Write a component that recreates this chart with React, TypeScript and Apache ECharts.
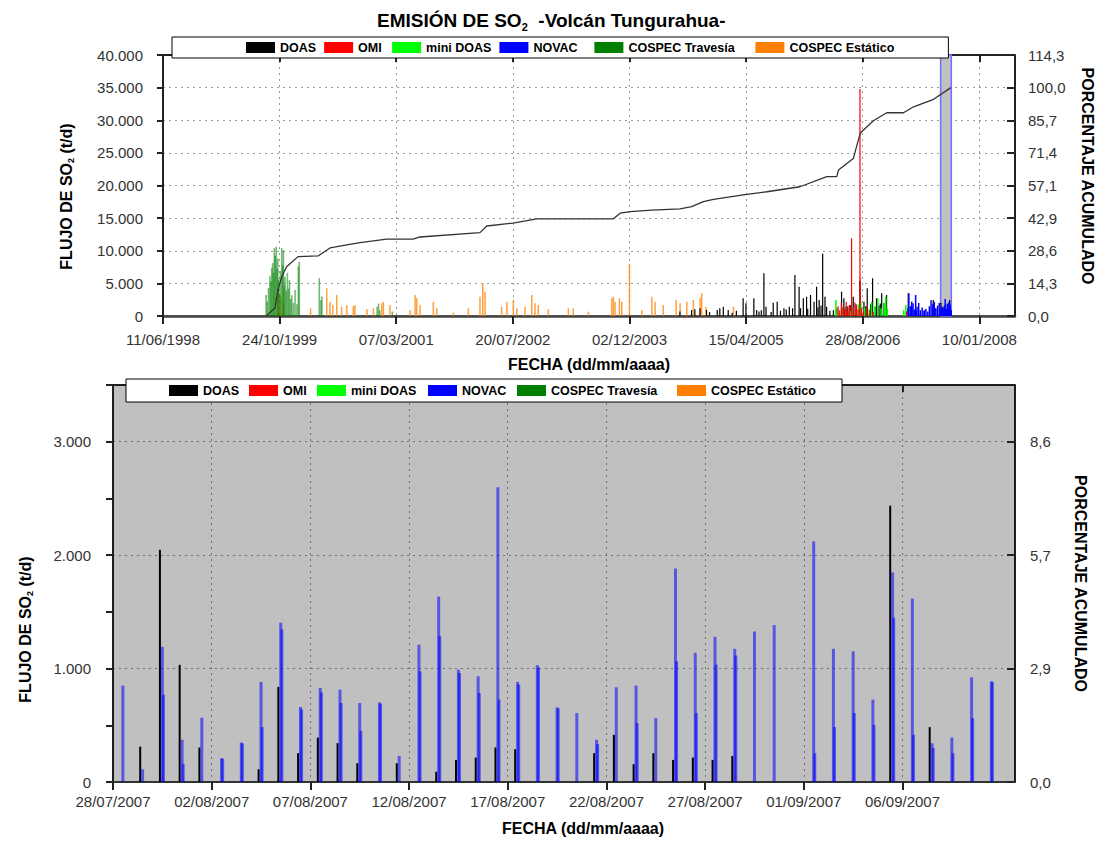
import React, { useEffect, useRef } from 'react';
import * as echarts from 'echarts';

const DAY = 86400000;
const FONT = 'Arial, "Liberation Sans", sans-serif';

// ---------- axis ranges / ticks ----------
const topAxisStart = '1998-06-11';
const topAxisEnd = '2008-06-11';
const topTickDays = 500;
const topFluxMax = 40000;
const topFluxStep = 5000;
const fluxFor100Pct = 35000;
const bottomAxisStart = '2007-07-28';
const bottomAxisSpanDays = 45.7;
const bottomTickDays = [0, 5, 10, 15, 20, 25, 30, 35, 40];
const bottomFluxMax = 3500;
const bandStart = '2007-07-28';
const bandEnd = '2007-09-12';

// ---------- legend ----------
const seriesNames = ['DOAS', 'OMI', 'mini DOAS', 'NOVAC', 'COSPEC Travesía', 'COSPEC Estático'];
const seriesColors = ['#000000', '#ff0000', '#00ff00', '#0000ff', '#008000', '#ff8000'];
const topLegendTextWidths = [36, 26, 65, 53, 119, 114];
const bottomLegendTextWidths = [38, 26, 69, 47, 118, 115];

// ---------- top chart data: [date, t/d] ----------
const cospecTravesia: [string, number][] = [
  ['1999-08-27', 3200], ['1999-09-01', 2200], ['1999-09-06', 4300], ['1999-09-12', 6100],
  ['1999-09-16', 5300], ['1999-09-20', 7400], ['1999-09-24', 8100], ['1999-09-28', 6600],
  ['1999-10-01', 10400], ['1999-10-05', 9200], ['1999-10-09', 10600], ['1999-10-13', 7200],
  ['1999-10-16', 8800], ['1999-10-20', 5600], ['1999-10-23', 3500], ['1999-10-27', 6900],
  ['1999-11-02', 10400], ['1999-11-06', 7800], ['1999-11-09', 10100], ['1999-11-13', 4700],
  ['1999-11-16', 6000], ['1999-11-21', 3900], ['1999-11-26', 6600], ['1999-12-01', 4200],
  ['1999-12-05', 5500], ['1999-12-10', 2600], ['1999-12-15', 3200], ['1999-12-22', 2000],
  ['1999-12-29', 4000], ['2000-01-06', 1800], ['2000-01-12', 7600], ['2000-01-16', 8300],
  ['2000-04-11', 5800], ['2000-04-18', 2400], ['2000-04-22', 3000], ['2000-12-15', 1400],
  ['2000-12-21', 1900], ['2000-12-26', 900], ['2001-02-18', 700],
];

const cospecEstatico: [string, number][] = [
  ['1999-10-18', 4300], ['1999-10-28', 3000], ['1999-11-08', 2000], ['2000-03-05', 1180],
  ['2000-05-13', 4250], ['2000-05-27', 2190], ['2000-06-08', 1690], ['2000-06-25', 3220],
  ['2000-07-16', 1430], ['2000-08-07', 1690], ['2000-09-04', 1530], ['2000-09-11', 1690],
  ['2000-11-01', 1030], ['2000-11-29', 1180], ['2001-01-04', 1950], ['2001-01-11', 2190],
  ['2001-02-08', 1690], ['2001-05-05', 920], ['2001-05-27', 3220], ['2001-06-03', 2710],
  ['2001-06-17', 1690], ['2001-08-13', 2190], ['2001-08-28', 1180], ['2001-11-07', 510],
  ['2002-01-10', 1180], ['2002-03-01', 2960], ['2002-03-13', 5010], ['2002-03-23', 3730],
  ['2002-06-02', 1430], ['2002-06-24', 2190], ['2002-07-22', 2450], ['2002-08-06', 1180],
  ['2002-09-10', 1430], ['2002-10-09', 3220], ['2002-10-23', 1950], ['2002-11-06', 1690],
  ['2002-12-19', 1030], ['2003-03-15', 1180], ['2003-04-05', 1180], ['2003-06-09', 660],
  ['2003-09-17', 2710], ['2003-09-24', 2960], ['2003-10-01', 2190], ['2003-10-20', 2710],
  ['2003-10-30', 2190], ['2003-12-02', 7970], ['2004-01-24', 920], ['2004-03-07', 2960],
  ['2004-03-21', 2190], ['2004-04-25', 1690], ['2004-06-19', 2450], ['2004-07-06', 1950],
  ['2004-08-04', 2190], ['2004-09-01', 2450], ['2004-09-30', 2710], ['2004-10-07', 3480],
  ['2004-10-25', 1430], ['2005-02-20', 1430], ['2006-08-17', 6000],
];

const doasTop: [string, number][] = [
  ['2004-07-06', 700], ['2004-08-25', 920], ['2004-09-08', 1030], ['2004-09-30', 1180],
  ['2004-10-28', 920], ['2004-11-10', 600], ['2004-12-13', 920], ['2004-12-24', 1180],
  ['2005-01-08', 1430], ['2005-01-29', 920], ['2005-02-15', 500], ['2005-03-05', 800],
  ['2005-04-03', 2710], ['2005-04-15', 1950], ['2005-05-19', 2710], ['2005-05-31', 920],
  ['2005-06-10', 700], ['2005-06-20', 900], ['2005-07-01', 6540], ['2005-07-10', 1430],
  ['2005-08-01', 600], ['2005-08-10', 2040], ['2005-08-27', 2190], ['2005-09-10', 800],
  ['2005-09-25', 1180], ['2005-10-05', 1000], ['2005-10-18', 1430], ['2005-11-01', 1180],
  ['2005-11-11', 6290], ['2005-11-29', 4490], ['2005-12-05', 1200], ['2005-12-17', 2710],
  ['2005-12-31', 2960], ['2006-01-05', 1100], ['2006-01-17', 3220], ['2006-02-01', 2190],
  ['2006-02-12', 4490], ['2006-02-18', 1300], ['2006-02-23', 2450], ['2006-03-03', 1600],
  ['2006-03-10', 9550], ['2006-03-20', 2960], ['2006-03-27', 1430], ['2006-04-10', 800],
  ['2006-04-25', 900], ['2006-05-10', 1200], ['2006-05-30', 3730], ['2006-06-09', 2710],
  ['2006-06-18', 1400], ['2006-06-26', 1500], ['2006-07-06', 1700], ['2006-07-19', 2960],
  ['2006-07-31', 1800], ['2006-08-17', 5400], ['2006-09-03', 2200], ['2006-09-10', 1500],
  ['2006-09-17', 4250], ['2006-10-02', 1800], ['2006-10-10', 5780], ['2006-10-20', 1400],
  ['2006-10-27', 2710], ['2006-11-06', 1600], ['2006-11-12', 1900], ['2006-11-18', 3480],
  ['2006-11-28', 2000], ['2006-12-02', 1200], ['2006-12-09', 3220], ['2007-03-12', 3480],
  ['2007-03-28', 1500], ['2007-04-15', 800], ['2007-05-20', 900], ['2007-06-27', 2450],
  ['2007-07-05', 1200],
];

const omi: [string, number][] = [
  ['2006-05-15', 1500], ['2006-05-22', 900], ['2006-05-29', 2000], ['2006-06-05', 1400],
  ['2006-06-12', 1100], ['2006-06-19', 2200], ['2006-06-26', 800], ['2006-07-03', 1700],
  ['2006-07-12', 11900], ['2006-07-19', 1300], ['2006-07-26', 2100], ['2006-08-02', 1600],
  ['2006-08-09', 1000], ['2006-08-17', 34800], ['2006-08-24', 1200], ['2006-09-01', 700],
  ['2006-09-14', 1400], ['2006-09-28', 900], ['2006-10-12', 600], ['2007-03-05', 700],
];

const miniDoas: [string, number][] = [
  ['2006-05-05', 2450], ['2006-05-12', 900], ['2006-06-01', 1200], ['2006-07-05', 800],
  ['2006-08-10', 1800], ['2006-08-20', 2200], ['2006-09-06', 1300], ['2006-09-25', 1000],
  ['2006-10-05', 2190], ['2006-10-18', 1500], ['2006-11-01', 2710], ['2006-11-15', 1200],
  ['2006-11-28', 2000], ['2006-12-05', 2960], ['2006-12-12', 1100], ['2007-02-20', 900],
  ['2007-03-01', 1690],
];

const novacTop: [string, number][] = [
  ['2007-03-10', 1200], ['2007-03-14', 3480], ['2007-03-20', 1500], ['2007-03-26', 2200],
  ['2007-04-01', 1950], ['2007-04-06', 1000], ['2007-04-12', 3220], ['2007-04-18', 1400],
  ['2007-04-25', 2000], ['2007-05-02', 900], ['2007-05-10', 1300], ['2007-05-18', 800],
  ['2007-05-26', 1100], ['2007-06-03', 700], ['2007-06-10', 1500], ['2007-06-17', 2400],
  ['2007-06-24', 1800], ['2007-07-01', 2190], ['2007-07-08', 1200], ['2007-07-15', 1600],
  ['2007-07-22', 2000],
];

// accumulated percentage (right axis)
const cumulativePct: [string, number][] = [
  ['1999-08-27', 0], ['1999-10-04', 3.5], ['1999-10-17', 11.4], ['1999-11-02', 17.2],
  ['1999-11-23', 21.6], ['2000-01-11', 26.0], ['2000-04-06', 26.3], ['2000-05-27', 29.8],
  ['2000-08-07', 31.1], ['2000-10-03', 32.1], ['2001-01-25', 33.7], ['2001-05-18', 33.7],
  ['2001-06-17', 34.6], ['2002-03-01', 36.5], ['2002-03-30', 39.4], ['2002-07-21', 40.7],
  ['2002-10-30', 42.5], ['2003-09-23', 42.5], ['2003-10-23', 45.0], ['2003-12-05', 45.7],
  ['2004-03-07', 46.4], ['2004-07-06', 46.9], ['2004-08-25', 47.9], ['2004-10-14', 50.1],
  ['2004-11-26', 51.1], ['2005-04-03', 53.0], ['2005-07-13', 54.4], ['2005-12-02', 56.6],
  ['2006-03-27', 61.0], ['2006-05-09', 61.0], ['2006-05-16', 63.9], ['2006-07-19', 69.0],
  ['2006-08-17', 80.0], ['2006-09-15', 82.9], ['2006-10-13', 85.5], ['2006-12-09', 89.0],
  ['2007-02-19', 89.0], ['2007-04-03', 91.6], ['2007-06-28', 94.9], ['2007-09-10', 100.0],
];

// ---------- bottom chart data (one entry per measured day) ----------
const bottomDates = [
  '2007-07-28', '2007-07-29', '2007-07-30', '2007-07-31', '2007-08-01', '2007-08-02',
  '2007-08-03', '2007-08-04', '2007-08-05', '2007-08-06', '2007-08-07', '2007-08-08',
  '2007-08-09', '2007-08-10', '2007-08-11', '2007-08-12', '2007-08-13', '2007-08-14',
  '2007-08-15', '2007-08-16', '2007-08-17', '2007-08-18', '2007-08-19', '2007-08-20',
  '2007-08-21', '2007-08-22', '2007-08-23', '2007-08-24', '2007-08-25', '2007-08-26',
  '2007-08-27', '2007-08-28', '2007-08-29', '2007-08-30', '2007-09-01', '2007-09-02',
  '2007-09-03', '2007-09-04', '2007-09-05', '2007-09-06', '2007-09-07', '2007-09-08',
  '2007-09-09', '2007-09-10',
];
const doasBottom: (number | null)[] = [
  null, 312, 2047, 1033, 304, null, null, 112, 838, 254, 392, 342, 165, null, 165, null,
  91, 195, 215, 304, 289, null, null, null, 254, 416, 157, 254, 195, 215, 195, 230, null,
  null, null, null, null, null, 2436, null, 484, null, null, null,
];
const novacBottomA: (number | null)[] = [
  850, 112, 1192, 372, 566, 210, 348, 882, 1404, 661, 829, 814, 696, 702, 230, 1210,
  1634, 991, 932, 2599, 882, 1030, 658, 608, 372, 835, 850, 563, 1882, 1139, 1280, 1174,
  1327, 1383, 2121, 1174, 1153, 726, 1847, 1617, 342, 392, 923, 888,
];
const novacBottomB: (number | null)[] = [
  null, null, 770, 161, null, 205, 340, 484, 1345, 640, 790, 696, 451, 690, null, 976,
  1286, 960, 785, 726, 860, 1010, 650, null, 333, null, 519, null, 1065, 608, 1035, 1115,
  null, null, 254, 484, 608, 504, 1449, 416, 300, 254, 563, 880,
];
const doasTime = 'T09:40';
const novacTimeA = 'T12:00';
const novacTimeB = 'T13:20';

// ---------- helpers ----------
function toMs(s: string): number {
  const [d, t] = s.split('T');
  const [y, m, dd] = d.split('-').map(Number);
  let ms = Date.UTC(y, m - 1, dd);
  if (t) {
    const [hh, mi] = t.split(':').map(Number);
    ms += (hh * 60 + mi) * 60000;
  }
  return ms;
}
const TOP0 = toMs(topAxisStart);
const BOT0 = toMs(bottomAxisStart);
const topX = (s: string) => (toMs(s) - TOP0) / DAY;
const botX = (s: string) => (toMs(s) - BOT0) / DAY;
const pad2 = (n: number) => (n < 10 ? '0' : '') + n;
const fmtDate = (ms: number) => {
  const d = new Date(Math.round(ms / DAY) * DAY);
  return pad2(d.getUTCDate()) + '/' + pad2(d.getUTCMonth() + 1) + '/' + d.getUTCFullYear();
};
const thousands = (v: number) => Math.round(v).toString().replace(/\B(?=(\d{3})+(?!\d))/g, '.');
const pctFmt = (v: number) => v.toFixed(1).replace('.', ',');

function buildOption(): any {
  const pairsTop = (arr: [string, number][]) => arr.map(([d, v]) => [topX(d), v]);
  const dayPairs = (vals: (number | null)[], time: string) =>
    bottomDates
      .map((d, i) => (vals[i] == null ? null : [d + time, vals[i] as number]))
      .filter((p) => p != null) as [string, number][];

  const doasB = dayPairs(doasBottom, doasTime);
  const novA = dayPairs(novacBottomA, novacTimeA);
  const novB = dayPairs(novacBottomB, novacTimeB);

  const topMax = topX(topAxisEnd);
  const pctMax = (topFluxMax * 100) / fluxFor100Pct;
  const pctStep = (topFluxStep * 100) / fluxFor100Pct;
  const botPctMax = (bottomFluxMax * 100) / fluxFor100Pct;
  const botPctStep = (1000 * 100) / fluxFor100Pct;

  const labelStyle = { fontSize: 15, color: '#333', fontFamily: FONT };
  const nameStyle = (extra: any = {}) => ({
    fontSize: 16,
    fontWeight: 'bold',
    color: '#000',
    fontFamily: FONT,
    rich: { sub: { fontSize: 9, fontWeight: 'bold', color: '#000', fontFamily: FONT, padding: [9, 0, 0, 0] } },
    ...extra,
  });

  const legendData = (widths: number[]) =>
    seriesNames.map((n, i) => ({
      name: n,
      itemStyle: { color: seriesColors[i], opacity: 1 },
      textStyle: { width: widths[i], backgroundColor: 'rgba(0,0,0,0)' },
    }));
  const legendCommon = {
    orient: 'horizontal',
    itemGap: 8,
    itemWidth: 29,
    itemHeight: 11,
    icon: 'rect',
    backgroundColor: '#ffffff',
    borderColor: '#000000',
    borderWidth: 1,
    selectedMode: false,
    z: 10,
    textStyle: { fontSize: 12.5, fontWeight: 'bold', color: '#000', fontFamily: FONT },
  };

  const topGridDots = { show: true, lineStyle: { color: '#9a9a9a', type: [2, 4], width: 1 } };
  const botGridDots = { show: true, lineStyle: { color: '#707070', type: [2, 4], width: 1 } };

  const bar = (name: string, data: any[], xi: number, yi: number, color: string, width: number, opacity = 1, z = 3) => ({
    name,
    type: 'bar',
    xAxisIndex: xi,
    yAxisIndex: yi,
    data,
    barWidth: width,
    barGap: '-100%',
    z,
    itemStyle: { color, opacity },
    silent: true,
  });

  return {
    animation: false,
    backgroundColor: '#ffffff',
    title: {
      text: 'EMISIÓN DE SO{sub|2}  -Volcán Tungurahua-',
      left: 372,
      top: 4,
      textStyle: {
        fontSize: 19,
        fontWeight: 'bold',
        color: '#000',
        fontFamily: FONT,
        rich: { sub: { fontSize: 11, fontWeight: 'bold', color: '#000', fontFamily: FONT, padding: [12, 0, 0, 0] } },
      },
    },
    legend: [
      { ...legendCommon, left: 172, top: 37, padding: [4, 45, 4, 74], data: legendData(topLegendTextWidths) },
      { ...legendCommon, left: 126, top: 379, padding: [5, 16, 5, 43], data: legendData(bottomLegendTextWidths) },
    ],
    grid: [
      { left: 163, right: 89, top: 55, height: 261, show: true, backgroundColor: '#ffffff', borderColor: '#000', borderWidth: 1 },
      { left: 113, right: 89, top: 385, height: 397, show: true, backgroundColor: '#c0c0c0', borderColor: '#000', borderWidth: 1 },
    ],
    xAxis: [
      {
        gridIndex: 0, type: 'value', position: 'bottom', min: 0, max: topMax, interval: topTickDays,
        axisLine: { show: true, onZero: false, lineStyle: { color: '#444', width: 2.5 } },
        axisTick: { show: true, inside: false, length: 8, lineStyle: { color: '#222', width: 2 } },
        axisLabel: { ...labelStyle, margin: 16, showMaxLabel: false, formatter: (v: number) => fmtDate(TOP0 + v * DAY) },
        splitLine: topGridDots,
        name: 'FECHA (dd/mm/aaaa)', nameLocation: 'middle', nameGap: 40, nameTextStyle: nameStyle(),
      },
      {
        gridIndex: 0, type: 'value', position: 'top', min: 0, max: topMax, interval: topTickDays,
        axisLine: { show: true, onZero: false, lineStyle: { color: '#000', width: 1.5 } },
        axisTick: { show: true, inside: true, length: 7, lineStyle: { color: '#222', width: 2 } },
        axisLabel: { show: false }, splitLine: { show: false },
      },
      {
        gridIndex: 1, type: 'value', position: 'bottom', min: 0, max: bottomAxisSpanDays, interval: 5,
        axisLine: { show: true, onZero: false, lineStyle: { color: '#333', width: 2 } },
        axisTick: { show: true, inside: false, length: 8, customValues: bottomTickDays, lineStyle: { color: '#222', width: 2 } },
        axisLabel: { ...labelStyle, margin: 12, customValues: bottomTickDays, formatter: (v: number) => fmtDate(BOT0 + v * DAY) },
        splitLine: botGridDots,
        name: 'FECHA (dd/mm/aaaa)', nameLocation: 'middle', nameGap: 38, nameTextStyle: nameStyle({ padding: [0, 0, 0, 38] }),
      },
      {
        gridIndex: 1, type: 'value', position: 'top', min: 0, max: bottomAxisSpanDays, interval: 5,
        axisLine: { show: true, onZero: false, lineStyle: { color: '#000', width: 1.5 } },
        axisTick: { show: true, inside: true, length: 7, customValues: bottomTickDays, lineStyle: { color: '#222', width: 2 } },
        axisLabel: { show: false }, splitLine: { show: false },
      },
    ],
    yAxis: [
      {
        gridIndex: 0, type: 'value', position: 'left', min: 0, max: topFluxMax, interval: topFluxStep,
        axisLine: { show: true, onZero: false, lineStyle: { color: '#000', width: 1.5 } },
        axisTick: { show: true, inside: false, length: 6, lineStyle: { color: '#222', width: 2 } },
        axisLabel: { ...labelStyle, margin: 20, formatter: (v: number) => thousands(v) },
        splitLine: topGridDots,
        name: 'FLUJO DE SO{sub|2} (t/d)', nameLocation: 'middle', nameRotate: 90, nameGap: 88,
        nameTextStyle: nameStyle({ padding: [0, 22, 0, 0] }),
      },
      {
        gridIndex: 0, type: 'value', position: 'right', min: 0, max: pctMax, interval: pctStep,
        axisLine: { show: true, onZero: false, lineStyle: { color: '#000', width: 1.5 } },
        axisTick: { show: true, inside: true, length: 8, lineStyle: { color: '#222', width: 2 } },
        axisLabel: { ...labelStyle, margin: 13, formatter: (v: number) => pctFmt(v) },
        splitLine: { show: false },
        name: 'PORCENTAJE ACUMULADO', nameLocation: 'middle', nameRotate: -90, nameGap: 64,
        nameTextStyle: nameStyle({ padding: [0, 19, 0, 0] }),
      },
      {
        gridIndex: 1, type: 'value', position: 'left', min: 0, max: bottomFluxMax, interval: 500,
        axisLine: { show: true, onZero: false, lineStyle: { color: '#000', width: 1.5 } },
        axisTick: { show: true, inside: false, length: 7, lineStyle: { color: '#222', width: 2 } },
        axisLabel: { show: false }, splitLine: { show: false },
      },
      {
        gridIndex: 1, type: 'value', position: 'left', min: 0, max: bottomFluxMax, interval: 1000,
        axisLine: { show: false }, axisTick: { show: false },
        axisLabel: { ...labelStyle, margin: 22, showMaxLabel: false, formatter: (v: number) => thousands(v) },
        splitLine: botGridDots,
        name: 'FLUJO DE SO{sub|2} (t/d)', nameLocation: 'middle', nameRotate: 90, nameGap: 79,
        nameTextStyle: nameStyle({ padding: [0, 92, 0, 0] }),
      },
      {
        gridIndex: 1, type: 'value', position: 'right', min: 0, max: botPctMax, interval: botPctStep,
        axisLine: { show: true, onZero: false, lineStyle: { color: '#000', width: 1.5 } },
        axisTick: { show: true, inside: true, length: 8, lineStyle: { color: '#222', width: 2 } },
        axisLabel: { ...labelStyle, margin: 15, showMaxLabel: false, formatter: (v: number) => pctFmt(v) },
        splitLine: { show: false },
        name: 'PORCENTAJE ACUMULADO', nameLocation: 'middle', nameRotate: -90, nameGap: 57,
        nameTextStyle: nameStyle(),
      },
    ],
    series: [
      {
        type: 'line', xAxisIndex: 0, yAxisIndex: 0, data: [], z: 1, silent: true,
        markArea: {
          silent: true,
          itemStyle: { color: '#c0c0c0', borderColor: '#6f6fff', borderWidth: 1.5 },
          data: [[{ xAxis: topX(bandStart) }, { xAxis: topX(bandEnd) }]],
        },
      },
      bar('COSPEC Estático', pairsTop(cospecEstatico), 0, 0, '#ff8000', 1.5, 0.75),
      bar('COSPEC Travesía', pairsTop(cospecTravesia), 0, 0, '#008000', 1.6, 0.55),
      bar('DOAS', pairsTop(doasTop.concat(doasB)), 0, 0, '#000000', 1.2),
      bar('mini DOAS', pairsTop(miniDoas), 0, 0, '#00ff00', 1.5),
      bar('OMI', pairsTop(omi), 0, 0, '#ff0000', 1.2),
      bar('NOVAC', pairsTop(novacTop.concat(novA, novB)), 0, 0, '#0000ff', 1.5),
      {
        name: 'acumulado', type: 'line', xAxisIndex: 0, yAxisIndex: 1, z: 5, silent: true,
        data: pairsTop(cumulativePct), symbol: 'none',
        lineStyle: { color: '#333', width: 1.3 },
      },
      bar('DOAS', doasB.map(([d, v]) => [botX(d), v]), 2, 2, '#000000', 2),
      bar('NOVAC', novA.map(([d, v]) => [botX(d), v]), 2, 2, '#0000ff', 3, 0.55),
      bar('NOVAC', novB.map(([d, v]) => [botX(d), v]), 2, 2, '#0000ff', 3, 0.55),
    ],
  };
}

export default function App() {
  const ref = useRef<HTMLDivElement>(null);
  useEffect(() => {
    if (!ref.current) return;
    const chart = echarts.init(ref.current, null, { renderer: 'svg' });
    chart.setOption(buildOption());
    return () => chart.dispose();
  }, []);
  return (
    <div
      ref={ref}
      style={{ position: 'absolute', left: 0, top: 0, width: 1104, height: 843, background: '#fff' }}
    />
  );
}
